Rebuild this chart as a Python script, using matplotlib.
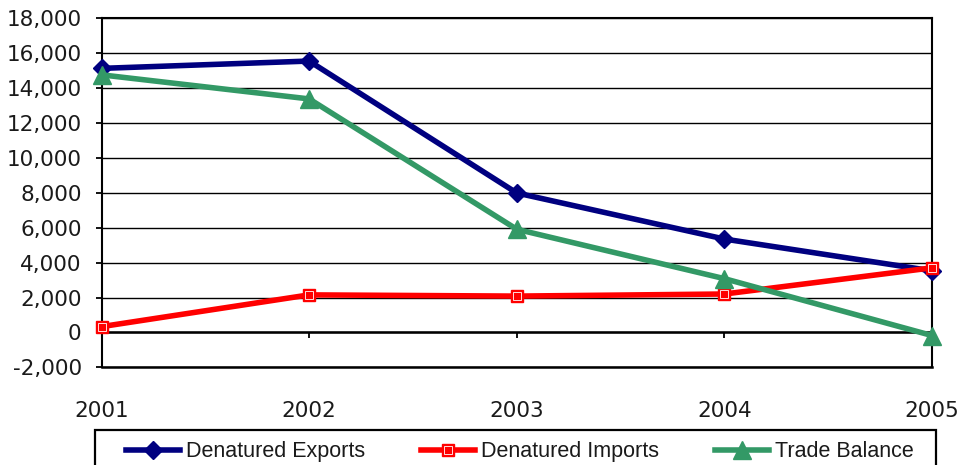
import matplotlib
matplotlib.use("Agg")
import matplotlib.pyplot as plt
from matplotlib.patches import Rectangle
from matplotlib.legend_handler import HandlerTuple
from matplotlib.ticker import FuncFormatter, MultipleLocator

years = [2001, 2002, 2003, 2004, 2005]
exports = [15130, 15550, 7990, 5350, 3530]
imports = [330, 2150, 2080, 2200, 3700]
balance = [14760, 13380, 5910, 3080, -180]
series_names = ["Denatured Exports", "Denatured Imports", "Trade Balance"]

W, H = 959, 465
fig = plt.figure(figsize=(W / 100, H / 100), dpi=100)
L, R, T, B = 101.5, 932, 18.3, 367.3
ax = fig.add_axes([L / W, 1 - B / H, (R - L) / W, (B - T) / H])

navy = "#000080"
red = "#FF0000"
green = "#339966"
lw = 4.0

l1, = ax.plot(years, exports, color=navy, lw=lw, marker="D", ms=9,
              mfc=navy, mec=navy, clip_on=False, zorder=3)
l2, = ax.plot(years, imports, color=red, lw=lw, marker="s", ms=9,
              mfc=red, mec=red, clip_on=False, zorder=4)
l2b, = ax.plot(years, imports, lw=0, marker="s", ms=6, mfc="none",
               mec="white", mew=0.6, clip_on=False, zorder=4)
l3, = ax.plot(years, balance, color=green, lw=lw, marker="^", ms=12.5,
              mfc=green, mec=green, clip_on=False, zorder=5)

ax.set_xlim(2001, 2005)
ax.set_ylim(-2000, 18000)
ax.yaxis.set_major_locator(MultipleLocator(2000))
ax.yaxis.set_major_formatter(FuncFormatter(lambda v, p: f"{int(v):,}"))
ax.grid(axis="y", color="black", lw=1.0)
ax.set_axisbelow(True)

for s in ["left", "right", "top"]:
    ax.spines[s].set_linewidth(1.5)
    ax.spines[s].set_color("black")
ax.spines["bottom"].set_position(("data", 0))
ax.spines["bottom"].set_linewidth(1.8)
ax.axhline(-2000, color="black", lw=1.8, clip_on=False, zorder=2)

ax.set_xticks(years)
ax.tick_params(axis="x", direction="out", length=4.3, width=1.3,
               labelbottom=False)
ax.tick_params(axis="y", direction="out", length=4.3, width=1.3,
               pad=10, labelsize=15.5)
for lab in ax.get_yticklabels():
    lab.set_fontfamily("DejaVu Sans")
    lab.set_color("#1a1a1a")

sec = ax.secondary_xaxis("bottom")
sec.set_xticks(years)
sec.set_xticklabels([str(y) for y in years], fontsize=15.5,
                    fontfamily="DejaVu Sans", color="#1a1a1a")
sec.tick_params(length=0, pad=24)
sec.spines["bottom"].set_visible(False)

# legend box
rect = Rectangle((95 / W, -0.2), (936 - 95) / W, 1 - 430 / H + 0.2,
                 transform=fig.transFigure, fill=False, ec="black",
                 lw=1.6, clip_on=False)
fig.add_artist(rect)

leg = fig.legend([l1, (l2, l2b), l3], series_names, ncol=3,
                 loc="center left", bbox_to_anchor=(126 / W, 1 - 451.7 / H),
                 bbox_transform=fig.transFigure, frameon=False,
                 borderpad=0, borderaxespad=0, handlelength=2.5,
                 handletextpad=0.28, columnspacing=2.6,
                 handler_map={tuple: HandlerTuple(ndivide=1)},
                 prop={"family": "Liberation Sans", "size": 15.5})
for t in leg.get_texts():
    t.set_color("#1a1a1a")

fig.savefig("out.png", dpi=100)
